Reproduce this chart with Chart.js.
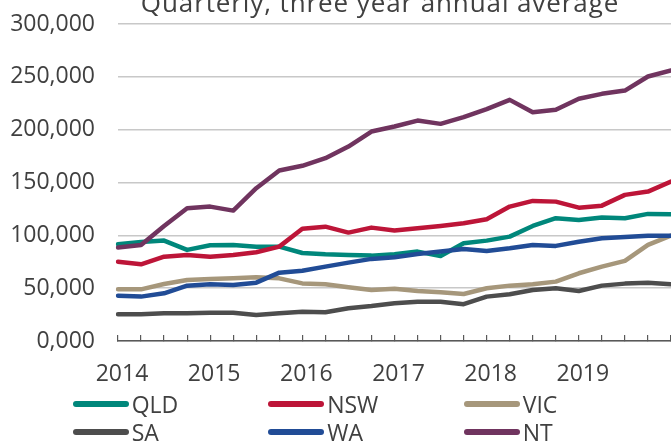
<!DOCTYPE html>
<html>
<head>
<meta charset="utf-8">
<script src="https://cdn.jsdelivr.net/npm/chart.js@4/dist/chart.umd.min.js"></script>
<style>
  body { margin: 0; background: #fff; overflow: hidden; }
  #wrap { position: relative; width: 671px; height: 442px; overflow: hidden; }
  #plotGraph { position: absolute; left: 0; top: 0; }
  #title {
    position: absolute; left: 0; top: -11px; width: 760px; text-align: center;
    font: 26px/26px "Open Sans", sans-serif; letter-spacing: 0.9px; color: #404040;
    white-space: nowrap;
  }
  .item {
    position: absolute; height: 28px; display: flex; align-items: center;
    font: 23px/28px "Open Sans", sans-serif; color: #404040;
  }
  .mark { width: 56px; height: 6px; border-radius: 3px; margin-right: 3px; }
</style>
</head>
<body>
<div id="wrap">
  <canvas id="plotGraph"></canvas>
  <div id="title">Quarterly, three year annual average</div>
  <div id="legend"></div>
</div>
<script>
// data
let categories = [
  "2014Q1", "2014Q2", "2014Q3", "2014Q4",
  "2015Q1", "2015Q2", "2015Q3", "2015Q4",
  "2016Q1", "2016Q2", "2016Q3", "2016Q4",
  "2017Q1", "2017Q2", "2017Q3", "2017Q4",
  "2018Q1", "2018Q2", "2018Q3", "2018Q4",
  "2019Q1", "2019Q2", "2019Q3", "2019Q4",
  "2020Q1"
]
let yearLabels = ["2014", "2015", "2016", "2017", "2018", "2019"]
let yTickLabels = ["0,000", "50,000", "100,000", "150,000", "200,000", "250,000", "300,000"]

let seriesNames = ["QLD", "NSW", "VIC", "SA", "WA", "NT"]
let seriesColors = ["#00877b", "#bd1538", "#a6977b", "#4d4d4d", "#214c96", "#70345f"]

let qld = [91500, 93800, 95000, 86200, 90600, 90900, 89300, 89300, 83300, 82100, 81400, 80800, 82100, 84600, 80500, 92500, 95000, 98800, 108900, 116200, 114600, 116800, 116200, 120300, 120000]
let nsw = [75100, 72600, 79800, 81400, 79800, 81400, 84000, 89300, 106200, 108200, 102600, 107300, 104500, 106700, 108900, 111400, 115300, 127200, 132600, 131900, 126200, 128100, 138300, 141400, 150900]
let vic = [48900, 48900, 54000, 57800, 58700, 59300, 60300, 59300, 54500, 53700, 50800, 48300, 49500, 47300, 46100, 44500, 49900, 52400, 53700, 56200, 64100, 70400, 75800, 90900, 99700]
let sa = [25300, 25300, 26200, 26200, 26800, 26800, 24600, 26200, 27600, 27200, 31000, 33100, 35700, 37200, 37200, 34800, 42000, 44200, 48300, 49900, 47300, 52400, 54300, 55200, 53700]
let wa = [42900, 42000, 45100, 52400, 53700, 53000, 55200, 64700, 66500, 70400, 74200, 77700, 79200, 82400, 84600, 87100, 85200, 87800, 90900, 90000, 94000, 97200, 98500, 99700, 99700]
let nt = [88400, 90900, 108900, 125700, 127200, 123400, 144600, 161300, 165800, 173000, 184000, 198200, 203000, 208600, 205500, 211800, 219500, 228200, 216500, 218800, 229200, 233900, 237000, 250300, 256000]

let seriesValues = [qld, nsw, vic, sa, wa, nt]

let fontFamily = '"Open Sans", sans-serif'
let textColor = "#404040"

// legend (two rows of three)
function makeLegend() {
  let legend = document.getElementById("legend")
  for (let i = 0; i < seriesNames.length; i++) {
    let col = i % 3
    let row = Math.floor(i / 3)
    let item = document.createElement("div")
    item.className = "item"
    item.style.left = (72.7 + col * 195.5) + "px"
    item.style.top = (389.5 + row * 28.3) + "px"
    let mark = document.createElement("span")
    mark.className = "mark"
    mark.style.background = seriesColors[i]
    let label = document.createElement("span")
    label.textContent = seriesNames[i]
    item.appendChild(mark)
    item.appendChild(label)
    legend.appendChild(item)
  }
}

let mainChartObj
function drawGraph() {
  let datasets = []
  for (let i = 0; i < seriesNames.length; i++) {
    datasets.push({
      label: seriesNames[i],
      data: seriesValues[i],
      borderColor: seriesColors[i],
      backgroundColor: seriesColors[i],
      borderWidth: 4.5,
      borderJoinStyle: "round",
      borderCapStyle: "round",
      pointRadius: 0,
      tension: 0,
      fill: false,
      order: seriesNames.length - i
    })
  }

  let mainOptions = {
    responsive: false,
    animation: false,
    devicePixelRatio: 1,
    layout: { padding: { top: 24, right: 0, bottom: 0, left: 0 } },
    plugins: {
      legend: { display: false },
      title: { display: false },
      tooltip: { enabled: false }
    },
    scales: {
      x: {
        type: "category",
        offset: false,
        afterFit: function (scale) {
          scale.height = 101
          scale.paddingRight = 0
        },
        grid: {
          drawOnChartArea: false,
          drawTicks: true,
          tickLength: -6,
          color: "#595959",
          lineWidth: 1.2
        },
        border: { display: true, color: "#595959", width: 1.5 },
        ticks: {
          autoSkip: false,
          maxRotation: 0,
          padding: 25.5,
          labelOffset: 4,
          color: textColor,
          font: { family: fontFamily, size: 23 },
          callback: function (value, index) {
            return index % 4 === 0 && yearLabels[index / 4] ? yearLabels[index / 4] : ""
          }
        }
      },
      y: {
        min: 0,
        max: 300000,
        afterFit: function (scale) {
          scale.width = 118
          scale.paddingTop = 0
          scale.paddingBottom = 0
        },
        grid: { color: "#c8c8c8", lineWidth: 1.6, drawTicks: false },
        border: { display: false },
        ticks: {
          stepSize: 50000,
          padding: 23,
          color: textColor,
          font: { family: fontFamily, size: 23 },
          callback: function (value, index) { return yTickLabels[index] }
        }
      }
    }
  }

  let mainCtx = document.getElementById("plotGraph")
  mainCtx.width = 671
  mainCtx.height = 442
  mainChartObj = new Chart(mainCtx, {
    type: "line",
    data: { labels: categories, datasets: datasets },
    options: mainOptions
  })
}

makeLegend()
drawGraph()
</script>
</body>
</html>
